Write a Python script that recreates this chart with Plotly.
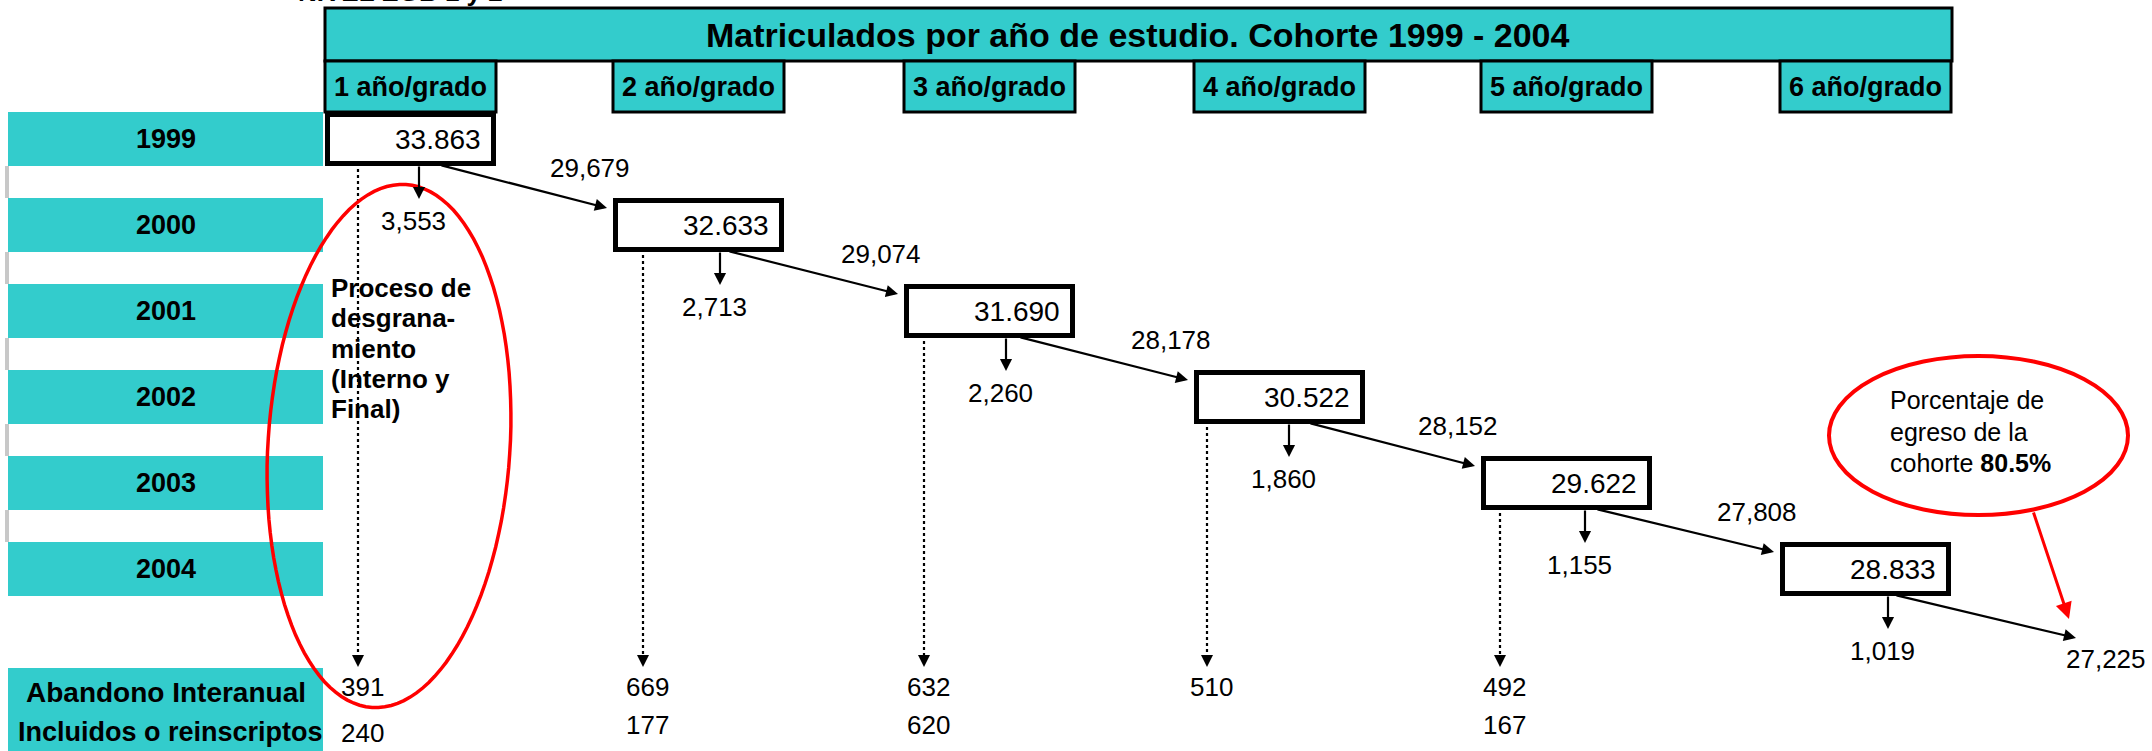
import plotly.graph_objects as go
import numpy as np

W, H = 2152, 751
TEAL = '#33CCCC'
FONT = 'Liberation Sans, Arial, sans-serif'

# ---- data ----
titulo = 'Matriculados por año de estudio. Cohorte 1999 - 2004'
nivel = 'NIVEL EGB 1 y 2'
anios = ['1999', '2000', '2001', '2002', '2003', '2004']
grados = ['1 año/grado', '2 año/grado', '3 año/grado', '4 año/grado', '5 año/grado', '6 año/grado']
matriculados = [33863, 32633, 31690, 30522, 29622, 28833]
promovidos = [29679, 29074, 28178, 28152, 27808, 27225]
repitentes = [3553, 2713, 2260, 1860, 1155, 1019]
abandono = [391, 669, 632, 510, 492]
incluidos = [240, 177, 620, None, 167]
egreso_pct = 80.5
fila_labels = ['Abandono Interanual', 'Incluidos o reinscriptos']
proceso_txt = ['Proceso de', 'desgrana-', 'miento', '(Interno y', 'Final)']

# ---- layout (pixel positions) ----
col_left = [325, 613, 904, 1194, 1481, 1780, 2082]
COL_W = 171
row_top = [112 + 86 * j for j in range(7)]
ROW_H = 54
down_dx = [94, 107, 102, 95, 104, 108]
dot_dx = [33, 30, 20, 13, 19]


def fmt(v, sep):
    return f'{v:,}'.replace(',', sep)


fig = go.Figure()
shapes = []
ann = []


def txt(x, y, s, size=26, bold=False, xanchor='center', color='black'):
    if bold:
        s = f'<b>{s}</b>'
    ann.append(dict(x=x, y=y, xref='x', yref='y', text=s, showarrow=False,
                    xanchor=xanchor, yanchor='middle',
                    font=dict(family=FONT, size=size, color=color)))


def arrow(x0, y0, x1, y1, color='black', width=2.2, size=1.1):
    ann.append(dict(x=x1, y=y1, ax=x0, ay=y0, xref='x', yref='y', axref='x', ayref='y',
                    text='', showarrow=True, arrowhead=2, arrowsize=size,
                    arrowwidth=width, arrowcolor=color, standoff=0, startstandoff=0))


# row label bars and little grey ticks between them
for j, a in enumerate(anios):
    shapes.append(dict(type='rect', x0=8, x1=323, y0=row_top[j], y1=row_top[j] + ROW_H,
                       fillcolor=TEAL, line=dict(width=0), layer='below'))
    txt(166, row_top[j] + ROW_H / 2, a, size=27, bold=True)
    if j < len(anios) - 1:
        shapes.append(dict(type='rect', x0=5, x1=9, y0=row_top[j] + ROW_H, y1=row_top[j + 1],
                           fillcolor='#C8C8C8', line=dict(width=0), layer='below'))

shapes.append(dict(type='rect', x0=8, x1=323, y0=668, y1=751,
                   fillcolor=TEAL, line=dict(width=0), layer='below'))
txt(166, 692, fila_labels[0], size=28, bold=True)
txt(170, 732, fila_labels[1], size=27, bold=True)

# header
shapes.append(dict(type='rect', x0=325, x1=1952, y0=8, y1=61,
                   fillcolor=TEAL, line=dict(color='black', width=3), layer='below'))
txt(1138, 34.5, titulo, size=34, bold=True)
ann.append(dict(x=400 / W, y=1 + 8 / H, xref='paper', yref='paper', text=f'<b>{nivel}</b>',
                showarrow=False, xanchor='center', yanchor='middle',
                font=dict(family=FONT, size=26, color='black')))

for i, g in enumerate(grados):
    x0 = col_left[i]
    shapes.append(dict(type='rect', x0=x0, x1=x0 + COL_W, y0=61, y1=112,
                       fillcolor=TEAL, line=dict(color='black', width=3), layer='below'))
    txt(x0 + COL_W / 2, 87, g, size=27, bold=True)

# value boxes
for i, v in enumerate(matriculados):
    x0, y0 = col_left[i], row_top[i]
    shapes.append(dict(type='rect', x0=x0 + 2.5, x1=x0 + COL_W - 2.5, y0=y0 + 2.5,
                       y1=y0 + ROW_H - 2.5, fillcolor='white',
                       line=dict(color='black', width=5)))
    txt(x0 + COL_W - 13, y0 + ROW_H / 2, fmt(v, '.'), size=28, xanchor='right')

# promoted flows: box i -> box i+1
for i, v in enumerate(promovidos):
    sx, sy = col_left[i] + 115, row_top[i] + ROW_H - 1
    ex, ey = col_left[i + 1] - 6, row_top[i + 1] + 10
    arrow(sx, sy, ex, ey)
    if i < len(promovidos) - 1:
        txt(ex - 17, ey - 40, fmt(v, ','), size=26)
    else:
        txt(ex + 30, ey + 21, fmt(v, ','), size=26)

# repeaters: short down arrows
for i, v in enumerate(repitentes):
    x = col_left[i] + down_dx[i]
    yb = row_top[i] + ROW_H
    arrow(x, yb - 1, x, yb + 33)
    txt(x - 6, yb + 55, fmt(v, ','), size=26)

# dropout: dotted arrows down to the bottom rows
for i, v in enumerate(abandono):
    x = col_left[i] + dot_dx[i]
    yb = row_top[i] + ROW_H + 3
    shapes.append(dict(type='line', x0=x, x1=x, y0=yb, y1=658,
                       line=dict(color='black', width=2.2, dash='dot')))
    arrow(x, 657, x, 667, width=2.0, size=1.2)
    txt(x + 4, 687, str(v), size=26)
    if incluidos[i] is not None:
        txt(x + 4, 733 if i == 0 else 725, str(incluidos[i]), size=26)

# left red ellipse (slightly tilted)
cx, cy, ra, rb, phi = 389, 446, 121, 262, np.radians(3.7)
t = np.linspace(0, 2 * np.pi, 121)
u, w = ra * np.cos(t), rb * np.sin(t)
ex_ = cx + u * np.cos(phi) - w * np.sin(phi)
ey_ = cy + u * np.sin(phi) + w * np.cos(phi)
path = 'M ' + ' L '.join(f'{a:.1f},{b:.1f}' for a, b in zip(ex_, ey_)) + ' Z'
shapes.append(dict(type='path', path=path, line=dict(color='#FF0000', width=3.5)))

for k, line in enumerate(proceso_txt):
    txt(329, 288 + 30.3 * k, line, size=26, bold=True, xanchor='left')

# right red ellipse with cohort graduation percentage
shapes.append(dict(type='circle', x0=1829, x1=2128, y0=356, y1=515,
                   line=dict(color='#FF0000', width=4)))
txt(1888, 400, 'Porcentaje de', size=25, xanchor='left')
txt(1888, 432, 'egreso de la', size=25, xanchor='left')
txt(1888, 463, f'cohorte <b>{egreso_pct:.1f}%</b>', size=25, xanchor='left')
arrow(2033, 511, 2069, 619, color='#FF0000', width=3, size=1.1)

fig.update_layout(
    width=W, height=H, autosize=False,
    margin=dict(l=0, r=0, t=0, b=0),
    paper_bgcolor='white', plot_bgcolor='white',
    xaxis=dict(range=[0, W], visible=False, fixedrange=True),
    yaxis=dict(range=[H, 0], visible=False, fixedrange=True),
    shapes=shapes, annotations=ann, showlegend=False,
)

# page body margin would shift the drawing, drop it
fig.write_html('out.html', config={'displayModeBar': False},
               post_script="document.body.style.margin='0';")
